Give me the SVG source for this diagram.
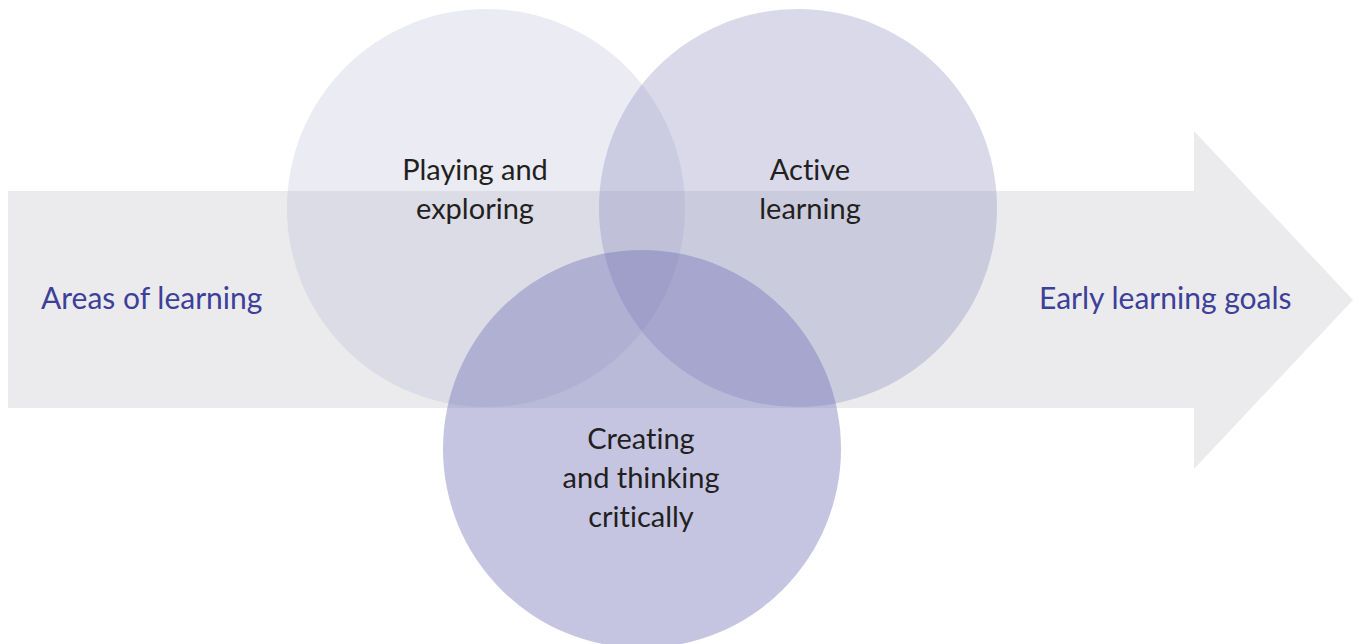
<svg xmlns="http://www.w3.org/2000/svg" width="1359" height="644" viewBox="0 0 1359 644">
<style>
.lbl{font-family:Lato,"Open Sans","Liberation Sans",sans-serif;font-size:29px;fill:#231f20;text-anchor:middle;font-variant-ligatures:none}
.side{font-family:Lato,"Open Sans","Liberation Sans",sans-serif;font-size:30px;fill:#3d3f98;font-variant-ligatures:none}
</style>
<rect width="1359" height="644" fill="#ffffff"/>
<g id="arrow">
<polygon points="8,191 1194,191 1194,131 1353,300 1194,469 1194,408 8,408" fill="#ebebee"/>
<text class="side" x="41" y="309">Areas of learning</text>
<text class="side" x="1039" y="309">Early learning goals</text>
</g>
<g id="playing">
<circle cx="486" cy="208" r="199" fill="#afafcf" fill-opacity="0.25"/>
<text class="lbl" x="475" y="180">Playing and</text>
<text class="lbl" x="475" y="219">exploring</text>
</g>
<g id="active">
<circle cx="798" cy="208" r="199" fill="#8080b9" fill-opacity="0.3"/>
<text class="lbl" x="810" y="180">Active</text>
<text class="lbl" x="810" y="219">learning</text>
</g>
<g id="creating">
<circle cx="642" cy="449" r="199" fill="#6e6eb6" fill-opacity="0.4"/>
<text class="lbl" x="641" y="449">Creating</text>
<text class="lbl" x="641" y="488">and thinking</text>
<text class="lbl" x="641" y="527">critically</text>
</g>
<g id="connectors"></g>
</svg>
